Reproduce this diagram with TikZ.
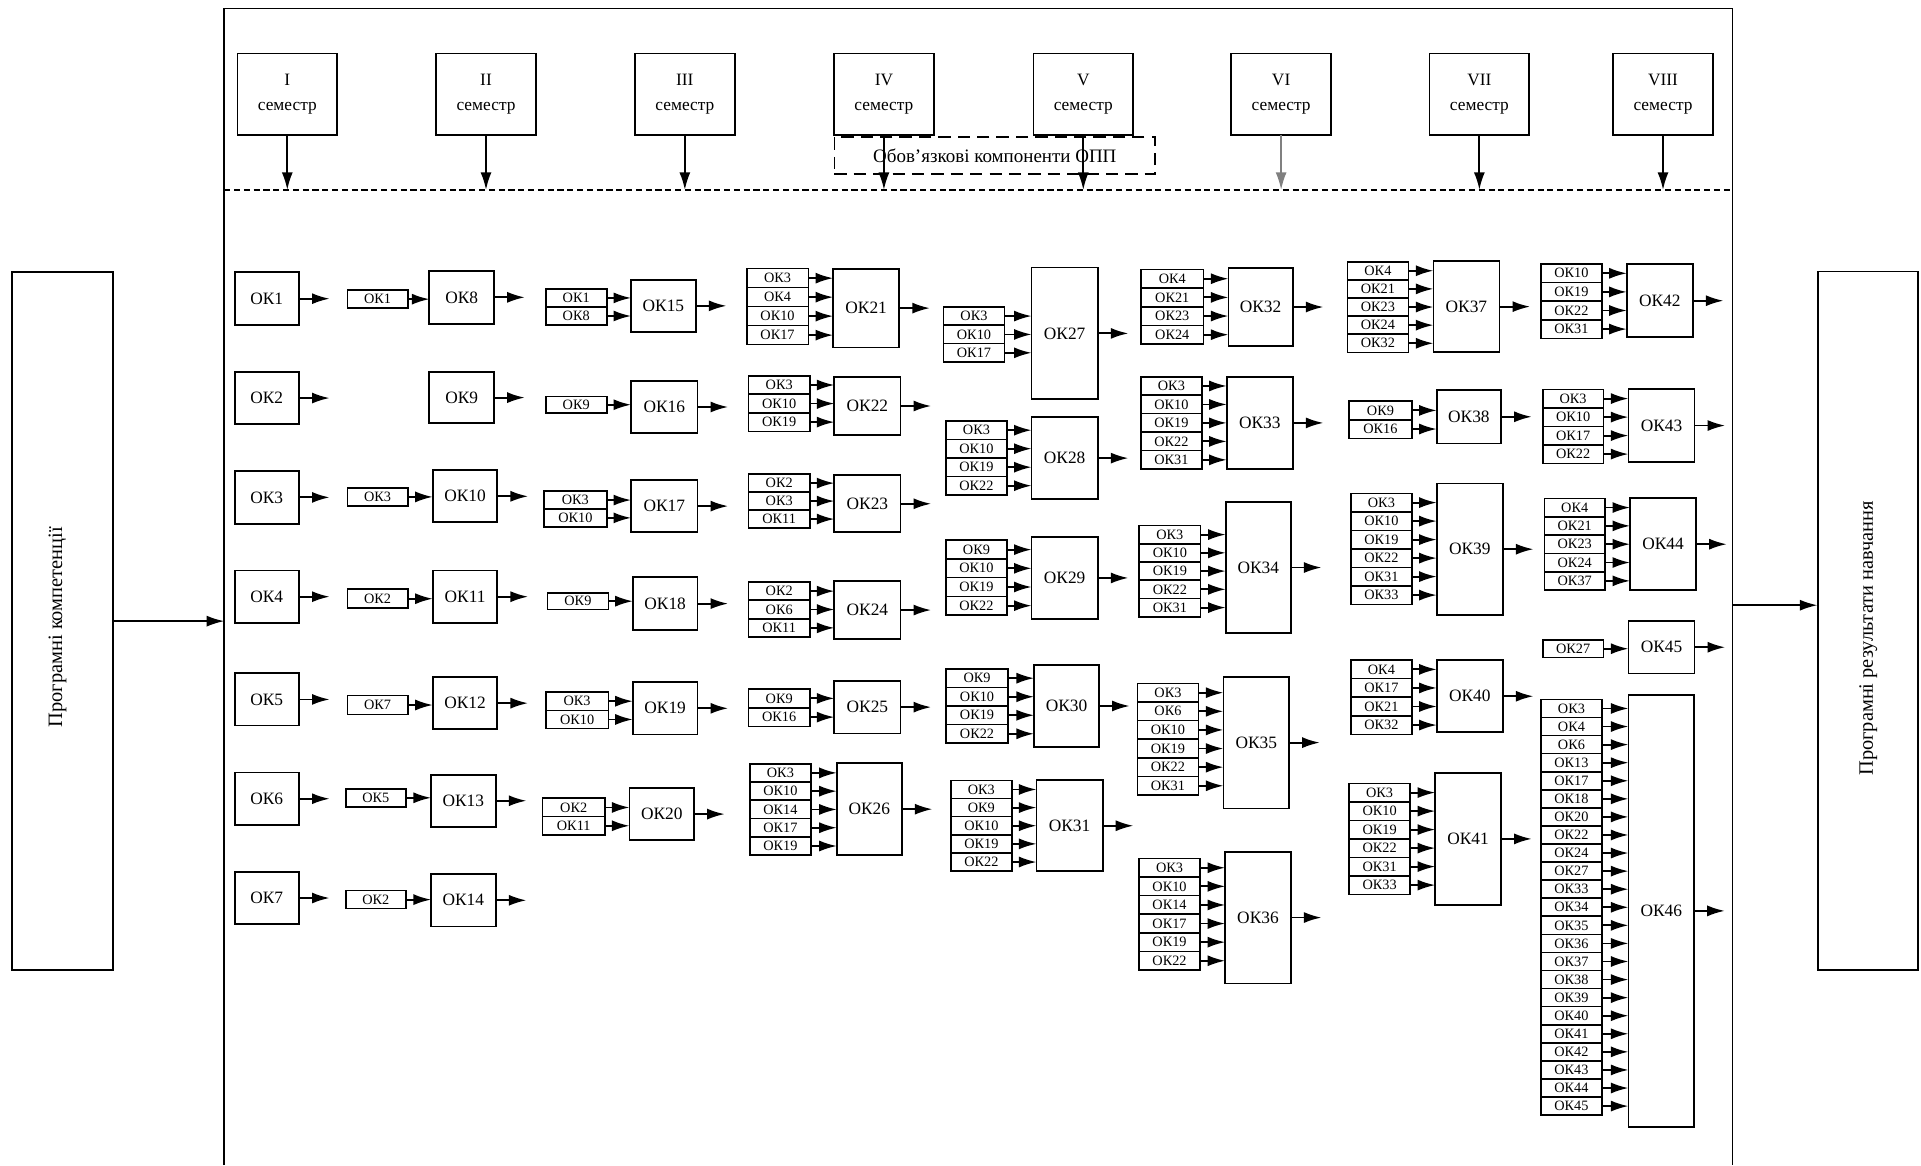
\documentclass[tikz,border=0pt]{standalone}
\usepackage{fontspec}
\setmainfont{Liberation Serif}
\usetikzlibrary{arrows.meta}
\tikzset{
  mbox/.style={draw, line width=0.9pt, inner sep=0pt, outer sep=0pt, font=\fontsize{8.5}{9}\selectfont},
  ibox/.style={draw, line width=0.8pt, inner sep=0pt, outer sep=0pt, font=\fontsize{7}{7.5}\selectfont},
  sbox/.style={draw, line width=0.9pt, inner sep=0pt, outer sep=0pt, align=center, font=\fontsize{8.5}{12}\selectfont,
    minimum width=48.8pt, minimum height=40pt},
  arr/.style={-{Latex[length=8.6pt,width=5.4pt]}, line width=0.9pt},
  frameline/.style={line width=0.8pt},
}
\newcommand\okmain[5]{%
  \node[mbox, minimum width={(#4-#2)*0.6pt}, minimum height={(#5-#3)*0.6pt}] (b#1) at ({(#2+#4)/2},{(#3+#5)/2}) {ОК#1};
  \coordinate (b#1o) at ([xshift=15pt]b#1.east);
  \draw[arr] (b#1.east) -- (b#1o);
}
\newcommand\okins[6]{%
  \gdef\nrows{0}%
  \foreach \l in {#6}{\xdef\nrows{\the\numexpr\nrows+1\relax}}%
  \pgfmathsetmacro\rh{(#5-#4)/\nrows}%
  \foreach \l [count=\k] in {#6} {
    \node[ibox, minimum width={(#3-#2)*0.6pt}, minimum height={\rh*0.6pt}] (b#1i\k) at ({(#2+#3)/2},{#4+(\k-0.5)*\rh}) {ОК\l};
    \draw[arr] (b#1i\k.east) -- (b#1i\k.east -| b#1.west);
  }
}
\begin{document}
\begin{tikzpicture}[x=0.6pt,y=-0.6pt]
\useasboundingbox (0,0) rectangle (1568,951);
% frame
\draw[frameline] (183,951) -- (183,7) -- (1414,7) -- (1414,951);
\coordinate (dlL) at (183,155);
\coordinate (dlR) at (1414,155);
\draw[line width=0.8pt, dash pattern=on 3pt off 1.8pt] (dlL) -- (dlR);
% dashed box
\node[draw, line width=0.8pt, dash pattern=on 6pt off 3.5pt, minimum width=157.2pt, minimum height=18pt, inner sep=0pt,
  font=\fontsize{9.3}{10}\selectfont] (ob) at (812,127) {Обов’язкові компоненти ОПП};
% semester boxes
\node[sbox] (s1) at (234.5,77) {I\\семестр};
\node[sbox] (s2) at (396.7,77) {II\\семестр};
\node[sbox] (s3) at (559,77) {III\\семестр};
\node[sbox] (s4) at (721.5,77) {IV\\семестр};
\node[sbox] (s5) at (884.2,77) {V\\семестр};
\node[sbox] (s6) at (1045.7,77) {VI\\семестр};
\node[sbox] (s7) at (1207.5,77) {VII\\семестр};
\node[sbox] (s8) at (1357.4,77) {VIII\\семестр};
\foreach \s in {1,2,3,4,5,7,8} {\draw[arr] (s\s.south) -- (s\s.south |- dlL);}
\draw[arr, gray] (s6.south) -- (s6.south |- dlL);
% side boxes
\node[draw, line width=0.9pt, minimum width=49.2pt, minimum height=342pt, inner sep=0pt] (lb) at (51,507) {};
\node[rotate=90, font=\fontsize{10}{11}\selectfont] (lbt) at (47,512) {Програмні компетенції};
\node[draw, line width=0.9pt, minimum width=49pt, minimum height=342.1pt, inner sep=0pt] (rb) at (1525,506.7) {};
\node[rotate=90, font=\fontsize{10}{11}\selectfont] (rbt) at (1525,521) {Програмні результати навчання};
\coordinate (fl) at (183,507);
\coordinate (fr) at (1414,494);
\draw[arr, line width=0.8pt] (lb.east |- fl) -- (fl);
\draw[arr, line width=0.8pt] (fr) -- (fr -| rb.west);
% column I
\okmain{1}{191.5}{222.3}{244}{265.3}
\okmain{2}{191.5}{303.6}{244}{346.2}
\okmain{3}{191.5}{384.5}{244}{427.5}
\okmain{4}{191.5}{465.7}{244}{508.4}
\okmain{5}{191.5}{549.6}{244}{592.2}
\okmain{6}{191.5}{630.5}{244}{673.4}
\okmain{7}{191.5}{711.7}{244}{754.3}
% column II
\okmain{8}{350.5}{221.2}{403.3}{264.2}
\okins{8}{283.5}{332.8}{236.9}{251.5}{1}
\okmain{9}{350.5}{303.6}{403.3}{345.5}
\okmain{10}{353.2}{383.8}{406}{426.4}
\okins{10}{283.5}{332.8}{398.3}{412.9}{3}
\okmain{11}{353.2}{465.7}{406}{508.4}
\okins{11}{283.5}{332.8}{481}{496.4}{2}
\okmain{12}{353.2}{552.8}{406}{595.1}
\okins{12}{283.5}{332.8}{567.8}{583.1}{7}
\okmain{13}{351.8}{632.3}{404.6}{674.9}
\okins{13}{282.2}{331.4}{643.9}{658.5}{5}
\okmain{14}{351.8}{713.5}{404.6}{756.2}
\okins{14}{282.2}{331.4}{727}{741.6}{2}
% column III
\okmain{15}{515.1}{228.5}{567.9}{270.8}
\okins{15}{445.5}{495.2}{235.8}{265.3}{1,8}
\okmain{16}{515.1}{310.9}{569.3}{353.5}
\okins{16}{445.5}{495.2}{323.6}{337.1}{9}
\okmain{17}{515.1}{391.8}{569.3}{434.4}
\okins{17}{444.1}{495.2}{400.9}{430}{3,10}
\okmain{18}{516.5}{471.2}{569.3}{514.2}
\okins{18}{446.8}{496.6}{484}{497.4}{9}
\okmain{19}{516.5}{556.8}{569.3}{599.5}
\okins{19}{445.5}{496.6}{564.9}{594.7}{3,10}
\okmain{20}{513.8}{643.2}{566.5}{685.8}
\okins{20}{442.7}{493.9}{651.6}{681.5}{2,11}
% column IV
\okmain{21}{680}{219.3}{734}{283.7}
\okins{21}{609.5}{659.8}{219.3}{281.3}{3,4,10,17}
\okmain{22}{681}{308}{735}{354.8}
\okins{22}{611}{661}{306.7}{352.1}{3,10,19}
\okmain{23}{681}{388}{735}{434.4}
\okins{23}{611}{661}{387}{431}{2,3,11}
\okmain{24}{681}{474.4}{735}{521.5}
\okins{24}{611}{661}{475}{520}{2,6,11}
\okmain{25}{681}{555.7}{735}{598.7}
\okins{25}{611}{661}{562.4}{593}{9,16}
\okmain{26}{683}{623}{736}{698}
\okins{26}{612}{662}{623.4}{698}{3,10,14,17,19}
% column V
\okmain{27}{842}{218.3}{896}{326}
\okins{27}{770}{820}{250.5}{295.5}{3,10,17}
\okmain{28}{842}{340.6}{896}{407.3}
\okins{28}{772}{822}{343.6}{404}{3,10,19,22}
\okmain{29}{842}{438.5}{896}{505}
\okins{29}{772}{822}{441}{502}{9,10,19,22}
\okmain{30}{844}{543}{897}{609.5}
\okins{30}{772}{823}{546}{606.5}{9,10,19,22}
\okmain{31}{846}{637}{900}{711}
\okins{31}{776}{826}{637}{711}{3,9,10,19,22}
% column VI
\okmain{32}{1002.7}{219}{1055.2}{282.2}
\okins{32}{931.4}{982.3}{219.9}{280.8}{4,21,23,24}
\okmain{33}{1001.3}{307.5}{1055.2}{382.9}
\okins{33}{931.4}{980.9}{307.5}{382.9}{3,10,19,22,31}
\okmain{34}{1000.5}{409.5}{1053.6}{517}
\okins{34}{929.7}{980}{428.9}{503.4}{3,10,19,22,31}
\okmain{35}{998.6}{552.4}{1052.2}{659.9}
\okins{35}{928.4}{978.2}{557.8}{649}{3,6,10,19,22,31}
\okmain{36}{1000}{695.2}{1053.6}{802.7}
\okins{36}{929.7}{979.5}{700.7}{791.8}{3,10,14,17,19,22}
% column VII
\okmain{37}{1170}{213}{1223.9}{287.6}
\okins{37}{1099.8}{1149.6}{213.6}{287.6}{4,21,23,24,32}
\okmain{38}{1172.7}{318.4}{1225.2}{362}
\okins{38}{1101.2}{1152.3}{327.4}{357.8}{9,16}
\okmain{39}{1172.7}{394.6}{1226.6}{502}
\okins{39}{1102.8}{1152.3}{402.7}{493.3}{3,10,19,22,31,33}
\okmain{40}{1172.7}{538.8}{1226.6}{597.8}
\okins{40}{1102.8}{1152.3}{538.8}{599.4}{4,17,21,32}
\okmain{41}{1171.4}{630.7}{1225.2}{738.8}
\okins{41}{1101.2}{1151}{639.4}{730}{3,10,19,22,31,33}
% column VIII
\okmain{42}{1327.8}{215.5}{1381.7}{275.4}
\okins{42}{1257.9}{1307.4}{215.5}{276.2}{10,19,22,31}
\okmain{43}{1329.2}{317.8}{1383.1}{376.9}
\okins{43}{1259.2}{1308.8}{317.8}{378.2}{3,10,17,22}
\okmain{44}{1330.5}{406.8}{1384.4}{481.6}
\okins{44}{1260.6}{1310.1}{406.8}{481.6}{4,21,23,24,37}
\okmain{45}{1329.2}{506.9}{1383.1}{549.7}
\okins{45}{1259.2}{1308.8}{522.4}{536.6}{27}
\okmain{46}{1329.2}{567.3}{1382.8}{919.7}
\okins{46}{1257.9}{1307.4}{570.9}{910.2}{3,4,6,13,17,18,20,22,24,27,33,34,35,36,37,38,39,40,41,42,43,44,45}
\end{tikzpicture}
\end{document}
